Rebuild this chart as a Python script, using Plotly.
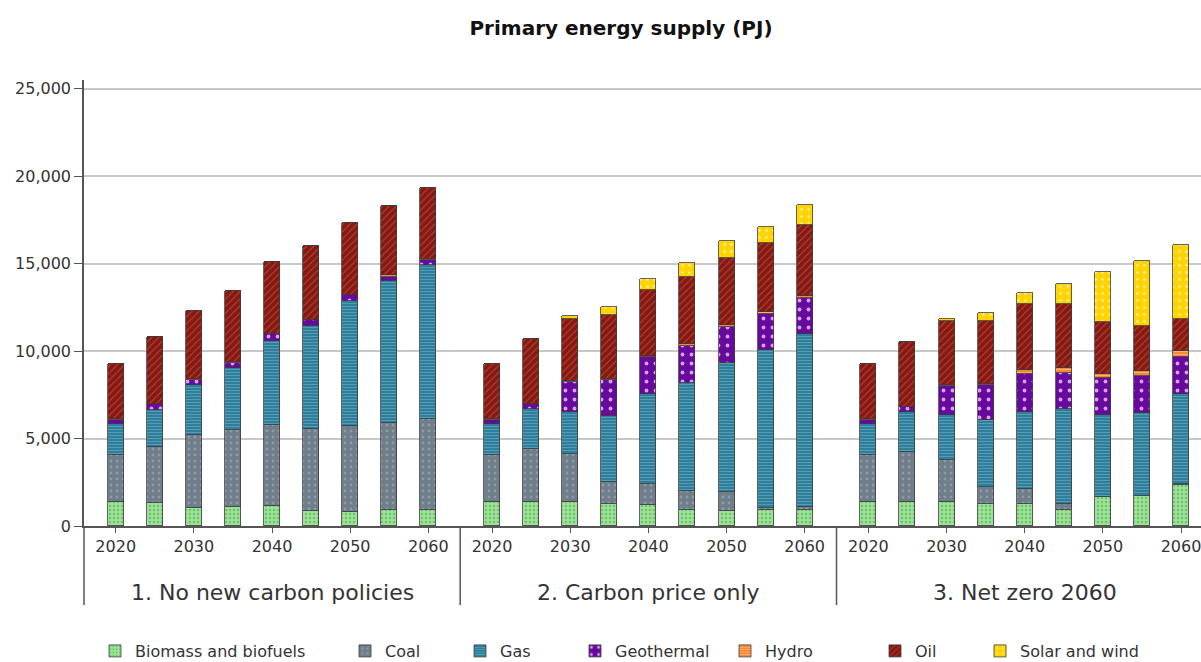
import plotly.graph_objects as go

# ---- data (PJ) ----
years = [2020, 2025, 2030, 2035, 2040, 2045, 2050, 2055, 2060]
labelled_years = [2020, 2030, 2040, 2050, 2060]
scenarios = ["1. No new carbon policies", "2. Carbon price only", "3. Net zero 2060"]

# one row per scenario, one value per year
biomass = [
    [1390, 1290, 1050, 1060, 1120, 840, 780, 890, 910],
    [1390, 1390, 1350, 1250, 1220, 930, 870, 930, 930],
    [1390, 1390, 1350, 1270, 1250, 930, 1670, 1710, 2340],
]
coal = [
    [2660, 3230, 4180, 4450, 4640, 4730, 4940, 5020, 5190],
    [2660, 3000, 2760, 1240, 1180, 1070, 1070, 100, 130],
    [2660, 2830, 2400, 950, 860, 340, 0, 0, 50],
]
gas = [
    [1770, 2130, 2850, 3540, 4840, 5890, 7170, 8100, 8820],
    [1770, 2280, 2410, 3800, 5170, 6190, 7390, 9010, 9890],
    [1770, 2300, 2580, 3830, 4410, 5400, 4660, 4750, 5140],
]
geothermal = [
    [260, 320, 270, 270, 350, 300, 310, 250, 310],
    [260, 300, 1720, 2060, 2110, 2080, 2040, 2070, 2110],
    [260, 290, 1690, 2030, 2190, 2090, 2110, 2100, 2130],
]
hydro = [
    [30, 30, 30, 30, 40, 30, 30, 90, 40],
    [30, 30, 30, 30, 30, 110, 130, 110, 110],
    [30, 0, 20, 20, 230, 270, 270, 280, 360],
]
oil = [
    [3170, 3800, 3920, 4090, 4090, 4240, 4110, 3960, 4030],
    [3170, 3670, 3570, 3670, 3810, 3840, 3800, 3940, 4050],
    [3170, 3700, 3670, 3630, 3760, 3670, 2940, 2570, 1810],
]
solar_wind = [
    [0, 0, 0, 0, 0, 0, 0, 0, 0],
    [0, 0, 140, 500, 610, 840, 990, 950, 1130],
    [0, 0, 100, 440, 650, 1120, 2890, 3760, 4220],
]

# ---- styling ----
FONT = "DejaVu Sans"
TEXT = "#333333"
GROUP_STEP = 9.63          # slot distance between the first bars of two scenarios
BAR_WIDTH = 0.41
SLOT_PX = 39.08

fuels = [
    ("Biomass and biofuels", biomass, "#9ee29a", "#6cc466", ".", 4, 0.3),
    ("Coal", coal, "#6e7e8a", "#8e9ba6", ".", 6, 0.18),
    ("Gas", gas, "#2e7f9c", "#5a9fb8", "-", 3, 0.3),
    ("Geothermal", geothermal, "#67099c", "#d6a2ef", ".", 9, 0.14),
    ("Hydro", hydro, "#f5893a", "#ffb575", "-", 3, 0.3),
    ("Oil", oil, "#861a12", "#b5483a", "/", 5, 0.2),
    ("Solar and wind", solar_wind, "#ffd400", "#fff3b0", ".", 7, 0.1),
]

# legend text start (px) for each entry along the bottom row
legend_text_px = [137, 387, 502, 617, 767, 917, 1022]

W, H = 1201, 662
M_L, M_R, M_T, M_B = 84, 0, 80, 136
plot_w = W - M_L - M_R
plot_h = H - M_T - M_B

x_pos = [g * GROUP_STEP + i for g in range(len(scenarios)) for i in range(len(years))]

fig = go.Figure()
for k, (name, rows, bg, fg, shape, size, solidity) in enumerate(fuels):
    vals = [v for row in rows for v in row]
    legend_id = "legend" if k == 0 else f"legend{k + 1}"
    fig.add_trace(go.Bar(
        x=x_pos,
        y=vals,
        name=name,
        width=BAR_WIDTH,
        legend=legend_id,
        marker=dict(
            color=bg,
            line=dict(color="#3c3c3c", width=0.8),
            pattern=dict(shape=shape, bgcolor=bg, fgcolor=fg, size=size,
                         solidity=solidity, fillmode="replace"),
        ),
        hovertemplate=name + ": %{y:,} PJ<extra></extra>",
    ))

# one single-entry legend per fuel, laid out along the bottom
legends = {}
for k, px in enumerate(legend_text_px):
    key = "legend" if k == 0 else f"legend{k + 1}"
    legends[key] = dict(
        orientation="h",
        x=(px - 42 - M_L) / plot_w,
        xanchor="left",
        y=-(651 - (H - M_B)) / plot_h,
        yanchor="middle",
        bgcolor="rgba(0,0,0,0)",
        font=dict(family=FONT, size=16, color=TEXT),
        borderwidth=0,
    )

tick_vals = [g * GROUP_STEP + years.index(y) for g in range(len(scenarios)) for y in labelled_years]
tick_text = [str(y) for _ in scenarios for y in labelled_years]

x_left = -(115.7 - M_L) / SLOT_PX
x_right = x_left + plot_w / SLOT_PX

below = -(605 - (H - M_B)) / plot_h

shapes = [
    # y axis continues down through the category rows
    dict(type="line", xref="paper", yref="paper", x0=0, x1=0, y0=below, y1=0,
         line=dict(color="#555555", width=1.5)),
]
for g in range(len(scenarios) - 1):
    xs = g * GROUP_STEP + (len(years) - 1) + (GROUP_STEP - (len(years) - 1)) / 2
    shapes.append(dict(type="line", xref="x", yref="paper", x0=xs, x1=xs, y0=below, y1=0,
                       line=dict(color="#555555", width=1.5)))

annotations = []
for g, s in enumerate(scenarios):
    annotations.append(dict(
        text=s, xref="x", yref="paper",
        x=g * GROUP_STEP + (len(years) - 1) / 2,
        y=-(592 - (H - M_B)) / plot_h,
        xanchor="center", yanchor="middle", showarrow=False,
        font=dict(family=FONT, size=22, color=TEXT),
    ))

fig.update_layout(
    width=W, height=H,
    margin=dict(l=M_L, r=M_R, t=M_T, b=M_B, autoexpand=False),
    paper_bgcolor="white", plot_bgcolor="white",
    barmode="stack", bargap=0,
    font=dict(family=FONT, color=TEXT),
    title=dict(text="<b>Primary energy supply (PJ)</b>", x=621 / W, xanchor="center",
               y=1 - 28 / H, yanchor="middle",
               font=dict(family=FONT, size=20, color="#111111")),
    xaxis=dict(range=[x_left, x_right], tickvals=tick_vals, ticktext=tick_text,
               showgrid=False, zeroline=False, showline=True, linecolor="#555555",
               linewidth=1.5, ticks="outside", ticklen=5, tickcolor="#555555",
               ticklabeloverflow="allow",
               tickfont=dict(family=FONT, size=16, color=TEXT)),
    yaxis=dict(range=[0, 25500], dtick=5000, tickformat=",", showgrid=True,
               gridcolor="#c8c8c8", gridwidth=1.5, zeroline=False, showline=True,
               linecolor="#555555", linewidth=1.5, ticks="outside", ticklen=8,
               tickcolor="#555555", tickfont=dict(family=FONT, size=16, color=TEXT)),
    shapes=shapes,
    annotations=annotations,
    showlegend=True,
    **legends,
)

fig.write_html("out.html")
